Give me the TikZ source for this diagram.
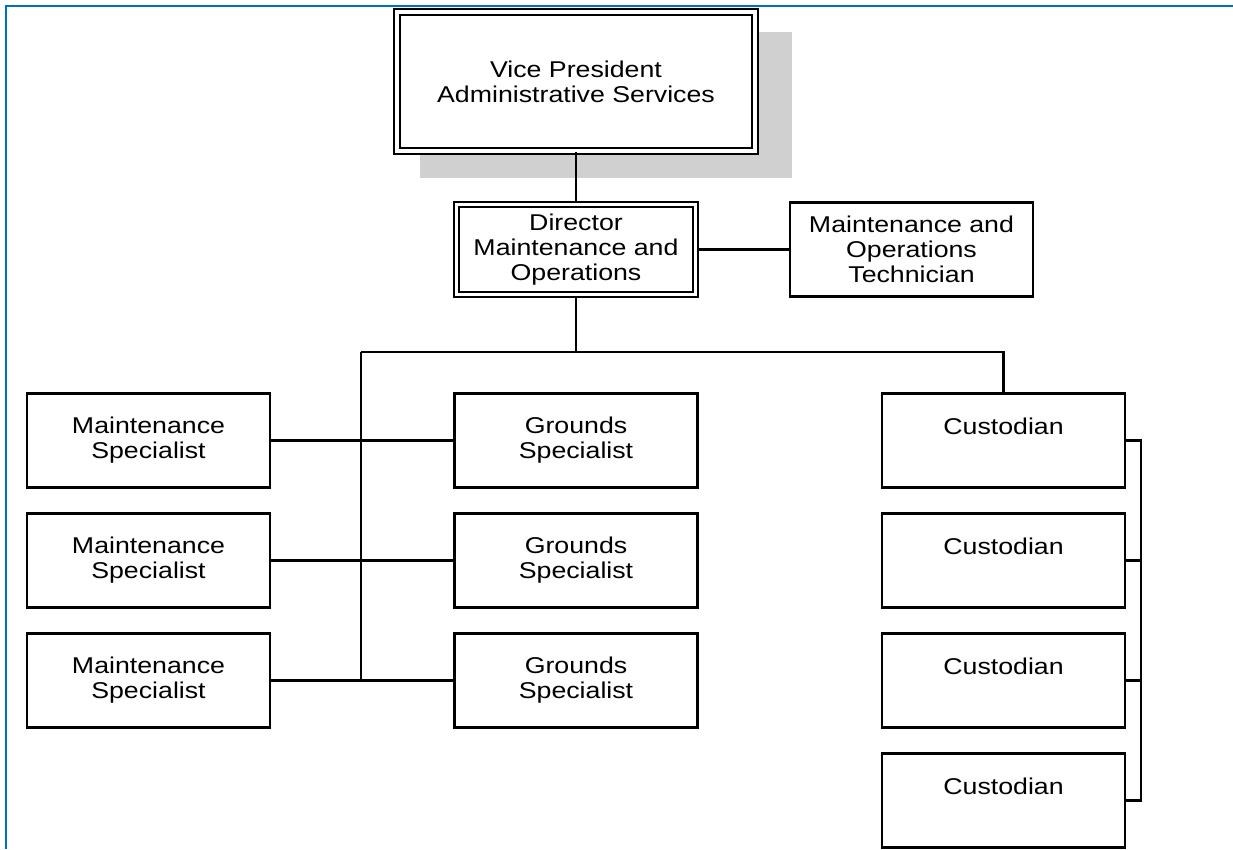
\documentclass[tikz,border=0pt]{standalone}
\usepackage{fontspec}
\setmainfont{Liberation Sans}[FakeStretch=1.17]
\usetikzlibrary{calc}
\definecolor{frameblue}{HTML}{0070C0}
\definecolor{shadowgray}{HTML}{D0D0D0}

\begin{document}
\begin{tikzpicture}[x=0.02cm,y=-0.02cm,line width=1.35pt,
  font=\fontsize{13pt}{14.2pt}\selectfont,
  box/.style={draw,fill=white,align=center,minimum width=4.86cm,minimum height=1.88cm,inner sep=1pt},
  dbox/.style={box,double,line width=1.2pt,double distance=1.9pt},
  cbox/.style={box,text height=9pt,text depth=16.4pt}]
\useasboundingbox (0,0) rectangle (1233,849);
\draw[frameblue,line width=1.7pt] (6,849) -- (6,6) -- (1233,6);
% top of the chart
\fill[shadowgray] (420,32) rectangle (792,178);
\node[dbox,minimum width=7.16cm,minimum height=2.78cm] (vp) at (576,81.5) {Vice President\\Administrative Services};
\node[dbox,minimum width=4.78cm,minimum height=1.8cm] (dir) at (576,249.5) {Director\\Maintenance and\\Operations};
\node[box] (tech) at (911.5,249.5) {Maintenance and\\Operations\\Technician};
\draw (vp) -- (dir);
\draw (dir) -- (tech);
% staff rows
\foreach \i/\y in {1/440.5,2/560.5,3/680.5}{%
  \node[box] (m\i) at (148.5,\y) {Maintenance\\Specialist};
  \node[box] (g\i) at (576,\y) {Grounds\\Specialist};
  \draw (m\i.east) -- (g\i.west);}
\foreach \i/\y in {1/440.5,2/560.5,3/680.5,4/800.5}
  \node[cbox] (c\i) at (1003.5,\y) {Custodian};
\coordinate (busL) at (361,352);
\draw (dir.south) -- (dir.south |- busL);
\draw (busL) -| (c1.north);
\draw (busL) -- (busL |- m3.east);
\draw (c1.east) -- ++(15,0) coordinate (br) |- (c4.east);
\draw (c2.east) -- (br |- c2.east);
\draw (c3.east) -- (br |- c3.east);
\end{tikzpicture}
\end{document}
